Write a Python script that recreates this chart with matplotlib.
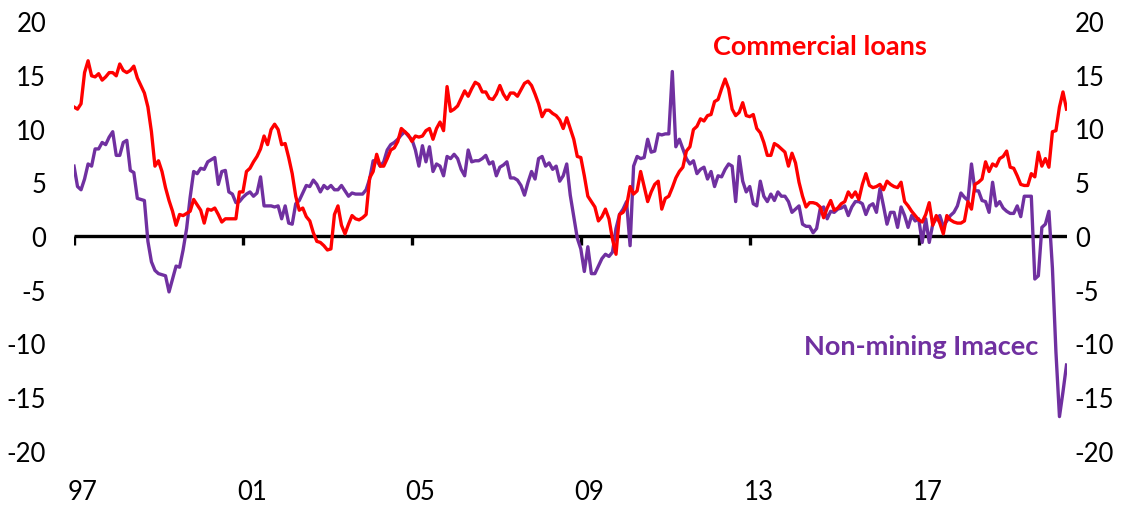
import matplotlib

matplotlib.use("Agg")
import matplotlib.pyplot as plt
import numpy as np

# Monthly y/y growth (%), Jan 1997 - Jul 2020
loans_by_year = {
    1997: [12.0, 11.8, 12.3, 15.2, 16.3, 14.9, 14.8, 15.1, 14.5, 14.8, 15.2, 15.2],
    1998: [14.9, 16.0, 15.4, 15.2, 15.4, 15.8, 14.7, 14.0, 13.3, 12.0, 9.7, 6.5],
    1999: [7.0, 6.0, 4.5, 3.3, 2.3, 1.0, 2.0, 1.9, 2.1, 2.3, 3.4, 2.9],
    2000: [2.4, 1.2, 2.5, 2.4, 2.6, 2.0, 1.3, 1.6, 1.6, 1.6, 1.6, 4.1],
    2001: [4.1, 6.0, 6.3, 6.9, 7.4, 8.1, 9.3, 8.5, 9.9, 10.4, 9.9, 8.5],
    2002: [8.6, 7.3, 5.8, 3.7, 2.4, 2.6, 1.8, 1.4, 0.3, -0.5, -0.6, -0.9],
    2003: [-1.3, -1.2, 2.0, 2.8, 1.0, 0.2, 1.1, 1.9, 1.6, 1.5, 1.7, 2.0],
    2004: [5.4, 6.0, 7.6, 6.5, 6.5, 7.2, 8.0, 8.2, 8.8, 10.0, 9.7, 9.4],
    2005: [8.8, 9.3, 9.2, 9.3, 9.8, 10.0, 9.0, 10.0, 10.6, 9.8, 13.9, 11.6],
    2006: [11.8, 12.1, 12.8, 13.5, 13.0, 13.7, 14.3, 14.1, 13.4, 13.4, 12.8, 12.7],
    2007: [13.2, 14.0, 13.2, 12.7, 13.3, 13.3, 13.0, 13.6, 14.2, 14.4, 14.0, 13.2],
    2008: [12.3, 11.1, 11.7, 11.7, 11.4, 11.2, 10.8, 10.0, 11.0, 10.0, 9.0, 7.4],
    2009: [7.3, 5.6, 3.7, 3.2, 2.7, 1.4, 1.8, 2.5, 1.6, -0.3, -1.7, 2.0],
    2010: [2.2, 2.8, 4.6, 3.9, 4.2, 6.0, 4.6, 3.2, 4.1, 4.8, 5.1, 2.5],
    2011: [3.5, 3.7, 4.5, 5.4, 6.0, 6.4, 7.9, 8.3, 9.9, 10.2, 10.9, 10.7],
    2012: [11.2, 11.3, 12.5, 12.7, 13.7, 14.6, 13.7, 11.8, 11.2, 11.5, 12.4, 11.2],
    2013: [11.1, 11.3, 10.0, 9.6, 8.7, 7.5, 7.5, 8.6, 8.4, 8.1, 7.8, 6.5],
    2014: [7.7, 6.8, 5.0, 3.7, 2.7, 3.1, 3.1, 3.0, 2.7, 1.7, 2.6, 3.3],
    2015: [2.4, 2.6, 3.0, 3.2, 4.1, 3.6, 4.1, 3.4, 4.8, 5.8, 4.7, 4.5],
    2016: [4.6, 4.8, 4.3, 5.1, 4.8, 4.6, 4.5, 5.0, 3.2, 2.8, 2.3, 1.9],
    2017: [1.5, 1.3, 2.0, 3.1, 1.0, 1.9, 1.2, 0.2, 1.9, 1.5, 1.3, 1.2],
    2018: [1.2, 1.4, 3.2, 2.5, 4.8, 5.0, 5.3, 6.9, 6.0, 6.7, 6.5, 7.2],
    2019: [7.4, 7.9, 6.4, 6.3, 5.6, 4.8, 4.7, 4.7, 5.8, 5.5, 7.8, 6.5],
    2020: [7.2, 6.4, 9.7, 9.8, 12.0, 13.4, 11.8],
}

imacec_by_year = {
    1997: [6.5, 4.6, 4.3, 5.3, 6.7, 6.5, 8.1, 8.1, 8.7, 8.5, 9.2, 9.7],
    1998: [7.5, 7.5, 8.7, 8.9, 6.1, 5.9, 3.5, 3.4, 3.3, -0.5, -2.4, -3.2],
    1999: [-3.5, -3.6, -3.7, -5.2, -4.0, -2.8, -2.9, -1.3, 0.7, 3.6, 6.0, 5.8],
    2000: [6.3, 6.2, 6.9, 7.1, 7.3, 4.8, 6.0, 6.1, 4.1, 3.9, 3.1, 3.2],
    2001: [3.6, 3.9, 4.1, 3.7, 4.0, 5.5, 2.8, 2.8, 2.8, 2.7, 2.8, 1.6],
    2002: [2.8, 1.2, 1.1, 3.0, 3.3, 4.0, 4.7, 4.6, 5.2, 4.8, 4.1, 4.7],
    2003: [4.4, 4.7, 4.3, 4.3, 4.7, 4.2, 3.7, 4.0, 3.9, 3.9, 3.9, 4.3],
    2004: [5.3, 7.0, 7.0, 6.5, 6.9, 8.0, 8.5, 8.7, 9.0, 9.4, 9.7, 9.3],
    2005: [9.0, 8.0, 6.5, 8.4, 6.9, 8.3, 6.0, 6.7, 6.5, 5.6, 7.4, 7.2],
    2006: [7.6, 7.2, 6.2, 5.6, 8.0, 6.9, 7.0, 7.0, 7.2, 7.5, 6.7, 6.9],
    2007: [5.6, 6.4, 6.6, 6.9, 5.4, 5.4, 5.2, 4.7, 3.8, 5.0, 6.0, 5.3],
    2008: [7.2, 7.4, 6.5, 6.8, 6.2, 6.5, 5.1, 5.6, 6.7, 3.8, 1.8, -0.2],
    2009: [-1.2, -3.3, -1.0, -3.5, -3.5, -2.8, -2.1, -1.7, -1.9, -1.5, 0.7, 2.0],
    2010: [2.5, 3.2, -0.9, 6.5, 7.4, 7.2, 7.3, 9.0, 7.8, 7.9, 9.5, 9.4],
    2011: [9.5, 9.5, 15.3, 8.3, 9.0, 8.1, 7.2, 6.7, 7.0, 5.8, 6.2, 6.4],
    2012: [5.3, 6.0, 4.6, 5.6, 5.5, 6.2, 6.7, 6.5, 3.2, 7.4, 5.1, 4.1],
    2013: [4.6, 3.0, 2.8, 5.1, 3.7, 3.2, 3.9, 3.3, 4.1, 3.7, 3.7, 3.2],
    2014: [2.2, 2.5, 2.8, 1.1, 0.9, 0.9, 0.3, 0.7, 2.5, 2.7, 1.6, 2.3],
    2015: [2.2, 2.5, 2.6, 2.8, 1.9, 2.7, 3.2, 3.2, 3.0, 2.0, 2.8, 3.0],
    2016: [2.2, 4.4, 2.8, 1.1, 2.2, 2.2, 0.8, 2.7, 1.9, 0.8, 1.9, 1.4],
    2017: [1.6, -0.6, 1.6, -0.6, 1.1, 1.6, 1.9, 0.9, 1.4, 1.9, 2.2, 2.8],
    2018: [4.0, 3.6, 3.3, 6.7, 4.2, 4.2, 3.3, 3.2, 2.2, 5.0, 2.8, 3.2],
    2019: [2.6, 2.3, 2.1, 2.1, 2.8, 1.8, 3.7, 3.7, 3.7, -4.0, -3.7, 0.8],
    2020: [1.1, 2.3, -3.0, -10.8, -16.8, -14.5, -12.0],
}

year_labels = ["97", "01", "05", "09", "13", "17"]
y_ticks = [-20, -15, -10, -5, 0, 5, 10, 15, 20]

RED = "#FF0000"
PURPLE = "#7030A0"


def main():
    plt.rcParams["font.family"] = ["Lato", "DejaVu Sans"]
    plt.rcParams["axes.unicode_minus"] = False

    loans = np.concatenate([loans_by_year[y] for y in sorted(loans_by_year)])
    imacec = np.concatenate([imacec_by_year[y] for y in sorted(imacec_by_year)])
    months = np.arange(len(loans))
    n_last = months[-1]

    fig = plt.figure(figsize=(11.41, 5.06), dpi=100)
    ax = fig.add_axes([74 / 1141, 54 / 506, (1066.5 - 74) / 1141, 430 / 506])
    ax.set_xlim(0, n_last)
    ax.set_ylim(-20, 20)
    for spine in ax.spines.values():
        spine.set_visible(False)

    # zero line with year ticks
    tick_months = np.arange(len(year_labels)) * 48
    ax.plot([0, n_last], [0, 0], color="black", lw=2.4, zorder=1, solid_capstyle="butt")
    ax.vlines(tick_months, -0.85, 0, color="black", lw=2.4, zorder=1)

    ax.plot(months, imacec, color=PURPLE, lw=2.4, zorder=2)
    ax.plot(months, loans, color=RED, lw=2.4, zorder=3)

    ax.set_xticks(tick_months + 2.5, year_labels)
    ax.tick_params(axis="x", length=0, pad=20, labelsize=18.5)
    ax.set_yticks(y_ticks)
    ax.tick_params(axis="y", length=0, pad=20, labelsize=18.5)

    ax2 = ax.twinx()
    ax2.set_ylim(ax.get_ylim())
    ax2.set_yticks(y_ticks)
    ax2.tick_params(axis="y", length=0, pad=6, labelsize=18.5)
    for spine in ax2.spines.values():
        spine.set_visible(False)

    ax.text(181.5, 17.7, "Commercial loans", color=RED, fontsize=19.5, fontweight="bold",
            ha="left", va="center")
    ax.text(207.5, -10.2, "Non-mining Imacec", color=PURPLE, fontsize=19.5, fontweight="bold",
            ha="left", va="center")

    fig.savefig("out.png", dpi=100)


if __name__ == "__main__":
    main()
